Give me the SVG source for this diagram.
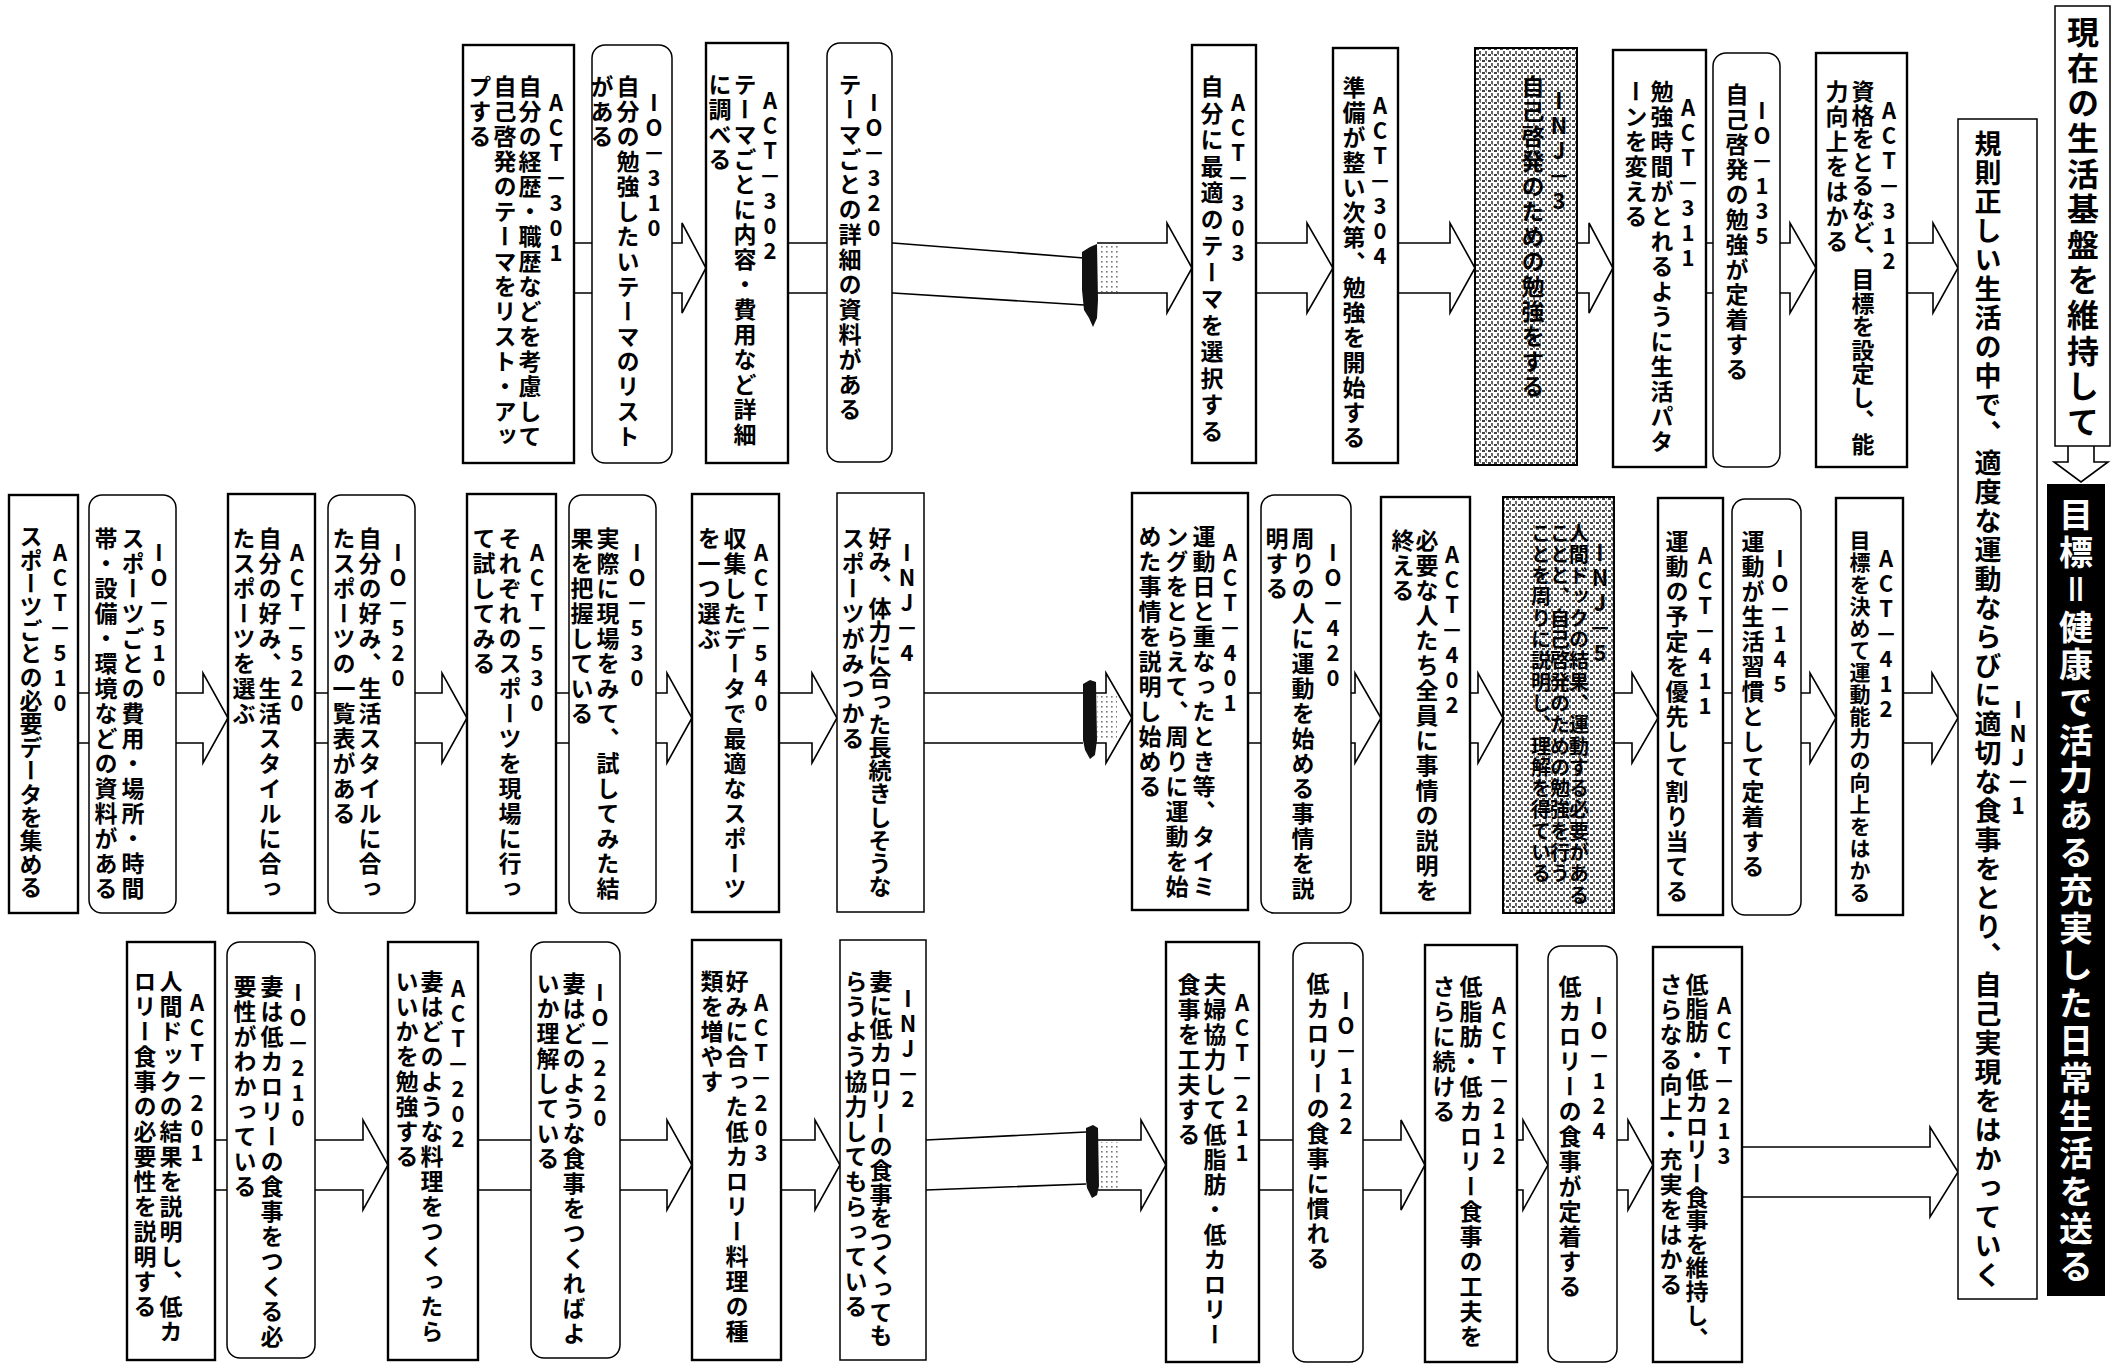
<svg xmlns="http://www.w3.org/2000/svg" width="2118" height="1364" viewBox="0 0 2118 1364">
<defs>
<pattern id="ht" width="6" height="6" patternUnits="userSpaceOnUse"><rect width="6" height="6" fill="#fff"/><rect x="0" y="0" width="3" height="2" fill="#444"/><rect x="3" y="3" width="2" height="3" fill="#666"/><rect x="4" y="0" width="1" height="1" fill="#888"/></pattern>
<pattern id="lt" width="5" height="5" patternUnits="userSpaceOnUse"><rect x="1" y="1" width="1.6" height="1.6" fill="#777"/></pattern>
<style>
.bx{fill:#fff;stroke:#000;stroke-width:2.4}
.io{fill:#fff;stroke:#000;stroke-width:1.5}
.ij{fill:#fff;stroke:#000;stroke-width:1.5}
.ih{fill:url(#ht);stroke:#000;stroke-width:2}
text{font-family:"Noto Sans CJK JP","Noto Sans CJK SC",sans-serif;writing-mode:vertical-rl;text-orientation:upright;font-size:23px;letter-spacing:2px;fill:#000;font-weight:700}
.t{font-size:22px;letter-spacing:3px}
.s{font-size:20px;letter-spacing:1.3px}
.cn path{fill:none;stroke:#000;stroke-width:1.6}
.brk{fill:#111;stroke:none}
.lt{fill:url(#lt);stroke:none}
</style>
</defs>
<rect width="2118" height="1364" fill="#fff"/>

<g id="connectors" class="cn">
<path d="M574,243 H682 V223 L706,268 L682,313 V293 H574"/>
<path d="M788,243 H893 L1084,258 M788,293 H893 L1084,305"/>
<path d="M1097,243 H1167 V223 L1192,268 L1167,313 V293 H1097"/>
<path d="M1256,243 H1307 V223 L1333,268 L1307,313 V293 H1256"/>
<path d="M1398,243 H1450 V223 L1475,268 L1450,313 V293 H1398"/>
<path d="M1577,243 H1589 V223 L1613,268 L1589,313 V293 H1577"/>
<path d="M1706,243 H1790 V223 L1816,268 L1790,313 V293 H1706"/>
<path d="M1907,243 H1933 V223 L1958,268 L1933,313 V293 H1907"/>
<path d="M78,693 H203 V673 L228,718 L203,763 V743 H78"/>
<path d="M315,693 H442 V673 L467,718 L442,763 V743 H315"/>
<path d="M556,693 H667 V673 L692,718 L667,763 V743 H556"/>
<path d="M779,693 H812 V673 L837,718 L812,763 V743 H779"/>
<path d="M924,693 H1083 M924,743 H1083"/>
<path d="M1096,693 H1106 V673 L1132,718 L1106,763 V743 H1096"/>
<path d="M1248,693 H1355 V673 L1381,718 L1355,763 V743 H1248"/>
<path d="M1470,693 H1478 V673 L1503,718 L1478,763 V743 H1470"/>
<path d="M1614,693 H1632 V673 L1658,718 L1632,763 V743 H1614"/>
<path d="M1723,693 H1810 V673 L1836,718 L1810,763 V743 H1723"/>
<path d="M1903,693 H1932 V673 L1958,718 L1932,763 V743 H1903"/>
<path d="M215,1140 H363 V1120 L388,1165 L363,1210 V1190 H215"/>
<path d="M478,1140 H667 V1120 L692,1165 L667,1210 V1190 H478"/>
<path d="M781,1140 H815 V1120 L840,1165 L815,1210 V1190 H781"/>
<path d="M926,1140 L1086,1132 M926,1190 L1086,1184"/>
<path d="M1098,1140 H1141 V1120 L1166,1165 L1141,1210 V1190 H1098"/>
<path d="M1259,1140 H1401 V1120 L1425,1165 L1401,1210 V1190 H1259"/>
<path d="M1517,1140 H1523 V1120 L1548,1165 L1523,1210 V1190 H1517"/>
<path d="M1617,1140 H1628 V1120 L1653,1165 L1628,1210 V1190 H1617"/>
<path d="M1742,1147 H1930 V1127 L1958,1172 L1930,1217 V1197 H1742"/>
<path d="M2068,446 V462 H2054 L2081,482 L2108,462 H2094 V446"/>
<rect class="lt" x="1098" y="246" width="20" height="46"/>
<polygon class="brk" points="1082,252 1090,247 1097,244 1098,300 1097,318 1093,327 1089,318 1084,310 1082,290"/>
<rect class="lt" x="1097" y="695" width="20" height="46"/>
<polygon class="brk" points="1083,684 1090,680 1096,682 1097,740 1095,755 1090,759 1085,750 1083,740"/>
<rect class="lt" x="1099" y="1142" width="20" height="46"/>
<polygon class="brk" points="1086,1128 1093,1125 1098,1128 1099,1186 1097,1195 1092,1198 1087,1188 1086,1180"/>
</g>

<g id="act-301"><rect class="bx" x="463" y="45" width="111" height="418"/>
<text class="t" x="556" y="92">ACT－301</text>
<text x="530" y="75">自分の経歴・職歴などを考慮して</text>
<text x="505" y="75">自己啓発のテーマをリスト・アッ</text>
<text x="480" y="75">プする</text></g>

<g id="io-310"><rect class="io" x="592" y="45" width="80" height="418" rx="13"/>
<text class="t" x="654" y="92">IO－310</text>
<text x="628" y="75">自分の勉強したいテーマのリスト</text>
<text x="602" y="75">がある</text></g>

<g id="act-302"><rect class="bx" x="706" y="43" width="82" height="420"/>
<text class="t" x="770" y="90">ACT－302</text>
<text x="745" y="73">テーマごとに内容・費用など詳細</text>
<text x="720" y="73">に調べる</text></g>

<g id="io-320"><rect class="io" x="827" y="43" width="65" height="419" rx="13"/>
<text class="t" x="874" y="92">IO－320</text>
<text x="850" y="73">テーマごとの詳細の資料がある</text></g>

<g id="act-303"><rect class="bx" x="1192" y="45" width="64" height="418"/>
<text class="t" x="1238" y="92">ACT－303</text>
<text x="1212" y="75" style="letter-spacing:3.5px">自分に最適のテーマを選択する</text></g>

<g id="act-304"><rect class="bx" x="1333" y="48" width="65" height="415"/>
<text class="t" x="1380" y="95">ACT－304</text>
<text x="1354" y="76">準備が整い次第、勉強を開始する</text></g>

<g id="inj-3"><rect class="ih" x="1475" y="48" width="102" height="417"/>
<text class="t" x="1559" y="90">INJ－3</text>
<text x="1533" y="75">自己啓発のための勉強をする</text></g>

<g id="act-311"><rect class="bx" x="1613" y="50" width="93" height="417"/>
<text class="t" x="1688" y="97">ACT－311</text>
<text x="1662" y="80">勉強時間がとれるように生活パタ</text>
<text x="1636" y="80">ーンを変える</text></g>

<g id="io-135"><rect class="io" x="1713" y="53" width="67" height="414" rx="13"/>
<text class="t" x="1762" y="100">IO－135</text>
<text x="1737" y="83">自己啓発の勉強が定着する</text></g>

<g id="act-312"><rect class="bx" x="1816" y="53" width="91" height="414"/>
<text class="t" x="1889" y="100">ACT－312</text>
<text x="1863" y="80" style="letter-spacing:0.5px">資格をとるなど、目標を設定し、能</text>
<text x="1837" y="80">力向上をはかる</text></g>

<g id="act-510"><rect class="bx" x="9" y="495" width="69" height="418"/>
<text class="t" x="60" y="542">ACT－510</text>
<text x="31" y="525" style="letter-spacing:0.4px">スポーツごとの必要データを集める</text></g>

<g id="io-510"><rect class="io" x="89" y="495" width="87" height="418" rx="13"/>
<text class="t" x="159" y="542">IO－510</text>
<text x="133" y="527">スポーツごとの費用・場所・時間</text>
<text x="106" y="527">帯・設備・環境などの資料がある</text></g>

<g id="act-520"><rect class="bx" x="228" y="494" width="87" height="419"/>
<text class="t" x="297" y="542">ACT－520</text>
<text x="270" y="527">自分の好み、生活スタイルに合っ</text>
<text x="244" y="527">たスポーツを選ぶ</text></g>

<g id="io-520"><rect class="io" x="328" y="495" width="87" height="418" rx="13"/>
<text class="t" x="398" y="542">IO－520</text>
<text x="370" y="527">自分の好み、生活スタイルに合っ</text>
<text x="344" y="527">たスポーツの一覧表がある</text></g>

<g id="act-530"><rect class="bx" x="467" y="494" width="89" height="419"/>
<text class="t" x="537" y="542">ACT－530</text>
<text x="510" y="527">それぞれのスポーツを現場に行っ</text>
<text x="484" y="527">て試してみる</text></g>

<g id="io-530"><rect class="io" x="569" y="495" width="87" height="418" rx="13"/>
<text class="t" x="637" y="542">IO－530</text>
<text x="608" y="527">実際に現場をみて、試してみた結</text>
<text x="582" y="527">果を把握している</text></g>

<g id="act-540"><rect class="bx" x="692" y="494" width="87" height="418"/>
<text class="t" x="761" y="542">ACT－540</text>
<text x="735" y="527">収集したデータで最適なスポーツ</text>
<text x="709" y="527">を一つ選ぶ</text></g>

<g id="inj-4"><rect class="ij" x="837" y="493" width="87" height="419"/>
<text class="t" x="907" y="542">INJ－4</text>
<text x="880" y="527" style="letter-spacing:0.2px">好み、体力に合った長続きしそうな</text>
<text x="853" y="527">スポーツがみつかる</text></g>

<g id="act-401"><rect class="bx" x="1132" y="493" width="116" height="417"/>
<text class="t" x="1230" y="542">ACT－401</text>
<text x="1204" y="525">運動日と重なったとき等、タイミ</text>
<text x="1177" y="525">ングをとらえて、周りに運動を始</text>
<text x="1150" y="525">めた事情を説明し始める</text></g>

<g id="io-420"><rect class="io" x="1261" y="495" width="90" height="418" rx="13"/>
<text class="t" x="1333" y="542">IO－420</text>
<text x="1303" y="527">周りの人に運動を始める事情を説</text>
<text x="1277" y="527">明する</text></g>

<g id="act-402"><rect class="bx" x="1381" y="497" width="89" height="416"/>
<text class="t" x="1452" y="544">ACT－402</text>
<text x="1427" y="529">必要な人たち全員に事情の説明を</text>
<text x="1403" y="529">終える</text></g>

<g id="inj-5"><rect class="ih" x="1503" y="497" width="111" height="416"/>
<text class="t" x="1600" y="542">INJ－5</text>
<text class="s" x="1579" y="523">人間ドックの結果、運動する必要がある</text>
<text class="s" x="1560" y="523">ことと、自己啓発のための勉強を行う</text>
<text class="s" x="1541" y="523">ことを周りに説明し、理解を得ている</text></g>

<g id="act-411"><rect class="bx" x="1658" y="498" width="65" height="417"/>
<text class="t" x="1705" y="545">ACT－411</text>
<text x="1677" y="530">運動の予定を優先して割り当てる</text></g>

<g id="io-145"><rect class="io" x="1732" y="499" width="69" height="416" rx="13"/>
<text class="t" x="1780" y="548">IO－145</text>
<text x="1753" y="530">運動が生活習慣として定着する</text></g>

<g id="act-412"><rect class="bx" x="1836" y="498" width="67" height="417"/>
<text class="t" x="1886" y="548">ACT－412</text>
<text x="1860" y="530" style="font-size:21px;letter-spacing:1px">目標を決めて運動能力の向上をはかる</text></g>

<g id="act-201"><rect class="bx" x="127" y="942" width="88" height="418"/>
<text class="t" x="197" y="992">ACT－201</text>
<text x="171" y="970">人間ドックの結果を説明し、低カ</text>
<text x="145" y="970">ロリー食事の必要性を説明する</text></g>

<g id="io-210"><rect class="io" x="227" y="942" width="88" height="416" rx="13"/>
<text class="t" x="298" y="982">IO－210</text>
<text x="272" y="975">妻は低カロリーの食事をつくる必</text>
<text x="245" y="975">要性がわかっている</text></g>

<g id="act-202"><rect class="bx" x="388" y="942" width="90" height="418"/>
<text class="t" x="458" y="978">ACT－202</text>
<text x="432" y="970">妻はどのような料理をつくったら</text>
<text x="407" y="970">いいかを勉強する</text></g>

<g id="io-220"><rect class="io" x="531" y="942" width="89" height="416" rx="13"/>
<text class="t" x="600" y="982">IO－220</text>
<text x="574" y="972">妻はどのような食事をつくればよ</text>
<text x="548" y="972">いか理解している</text></g>

<g id="act-203"><rect class="bx" x="692" y="940" width="89" height="420"/>
<text class="t" x="761" y="992">ACT－203</text>
<text x="737" y="970">好みに合った低カロリー料理の種</text>
<text x="712" y="970">類を増やす</text></g>

<g id="inj-2"><rect class="ij" x="840" y="940" width="86" height="420"/>
<text class="t" x="908" y="988">INJ－2</text>
<text x="881" y="970" style="letter-spacing:0.6px">妻に低カロリーの食事をつくっても</text>
<text x="856" y="970">らうよう協力してもらっている</text></g>

<g id="act-211"><rect class="bx" x="1166" y="942" width="93" height="420"/>
<text class="t" x="1242" y="992">ACT－211</text>
<text x="1215" y="973">夫婦協力して低脂肪・低カロリー</text>
<text x="1189" y="973">食事を工夫する</text></g>

<g id="io-122"><rect class="io" x="1293" y="943" width="70" height="419" rx="13"/>
<text class="t" x="1346" y="990">IO－122</text>
<text x="1318" y="972">低カロリーの食事に慣れる</text></g>

<g id="act-212"><rect class="bx" x="1425" y="945" width="92" height="417"/>
<text class="t" x="1499" y="995">ACT－212</text>
<text x="1471" y="975">低脂肪・低カロリー食事の工夫を</text>
<text x="1444" y="975">さらに続ける</text></g>

<g id="io-124"><rect class="io" x="1548" y="946" width="69" height="416" rx="13"/>
<text class="t" x="1599" y="995">IO－124</text>
<text x="1570" y="975">低カロリーの食事が定着する</text></g>

<g id="act-213"><rect class="bx" x="1653" y="947" width="89" height="415"/>
<text class="t" x="1724" y="995">ACT－213</text>
<text x="1697" y="973" style="letter-spacing:0.6px">低脂肪・低カロリー食事を維持し、</text>
<text x="1671" y="973">さらなる向上・充実をはかる</text></g>

<g id="inj-1"><rect class="ij" x="1958" y="119" width="79" height="1180"/>
<text x="2018" y="698" style="font-size:23px;letter-spacing:1px">INJ－1</text>
<text x="1988" y="130" style="font-size:27px;letter-spacing:2px">規則正しい生活の中で、適度な運動ならびに適切な食事をとり、自己実現をはかっていく</text></g>

<g id="base"><rect class="ij" x="2055" y="6" width="55" height="440"/>
<text x="2083" y="16" style="font-size:32px;letter-spacing:3.4px">現在の生活基盤を維持して</text></g>

<g id="goal"><rect x="2047" y="484" width="58" height="812" fill="#000"/>
<text x="2076" y="497" style="font-size:34px;letter-spacing:3.6px;fill:#fff">目標＝健康で活力ある充実した日常生活を送る</text></g>
</svg>
